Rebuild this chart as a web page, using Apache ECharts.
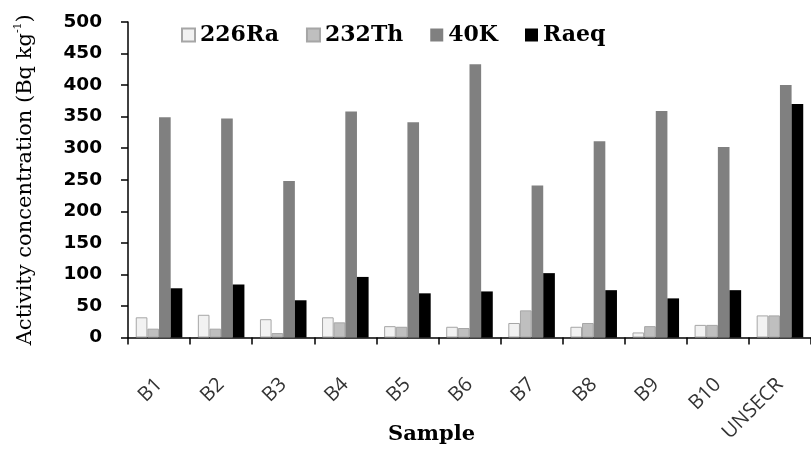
<!DOCTYPE html>
<html>
<head>
<meta charset="utf-8">
<script src="https://cdn.jsdelivr.net/npm/echarts@6/dist/echarts.min.js"></script>
<style>html,body{margin:0;padding:0;background:#fff;}#c{width:811px;height:449px;}</style>
</head>
<body>
<div id="c"></div>
<script>
var categories = ['B1','B2','B3','B4','B5','B6','B7','B8','B9','B10','UNSECR'];
var ra226 = [32, 36, 29, 32, 18, 17, 23, 17, 8, 20, 35];
var th232 = [14, 14, 7, 24, 17, 15, 43, 23, 18, 20, 35];
var k40 = [349, 347, 248, 358, 341, 433, 241, 311, 359, 302, 400];
var raeq = [78, 84, 59, 96, 70, 73, 102, 75, 62, 75, 370];
var yTicks = {min: 0, max: 500, interval: 50};

var chart = echarts.init(document.getElementById('c'));
var serif = 'DejaVu Serif';
function bar(name, data, color, border) {
  return {
    name: name, type: 'bar', data: data,
    barGap: '0%', barCategoryGap: '25%',
    itemStyle: {color: color, borderColor: border || color, borderWidth: border ? 1 : 0},
    emphasis: {disabled: true}
  };
}
chart.setOption({
  animation: false,
  backgroundColor: '#fff',
  grid: {left: 128, top: 22, right: -9, bottom: 111.5, containLabel: false},
  legend: {
    left: 176, top: 19, itemWidth: 13, itemHeight: 13, itemGap: 27, itemTextGap: 8,
    icon: 'rect',
    textStyle: {fontFamily: serif, fontWeight: 'bold', fontSize: 22, color: '#000'},
    data: ['226Ra','232Th','40K','Raeq']
  },
  xAxis: {
    type: 'category', data: categories,
    axisLine: {lineStyle: {color: '#000', width: 1.5}},
    axisTick: {show: true, length: 7, lineStyle: {color: '#000', width: 1.5}},
    axisLabel: {rotate: 45, margin: 44, fontFamily: 'Open Sans', fontSize: 20, color: '#333', interval: 0}
  },
  yAxis: {
    type: 'value', min: yTicks.min, max: yTicks.max, interval: yTicks.interval,
    splitLine: {show: false},
    axisLine: {show: true, lineStyle: {color: '#000', width: 1.5}},
    axisTick: {show: true, length: 7, lineStyle: {color: '#000', width: 1.5}},
    axisLabel: {margin: 26, fontFamily: 'DejaVu Sans', fontWeight: 'bold', fontSize: 18.5, color: '#000'},
    name: '{a|Activity concentration (Bq kg}{s|-1}{a|)}',
    nameLocation: 'middle', nameGap: 90,
    nameTextStyle: {
      rich: {
        a: {fontFamily: serif, fontSize: 21, color: '#000', lineHeight: 25},
        s: {fontFamily: serif, fontSize: 11, color: '#000', verticalAlign: 'top', lineHeight: 25}
      }
    }
  },
  graphic: [{
    type: 'text', left: 388, top: 424,
    style: {text: 'Sample', fontFamily: serif, fontWeight: 'bold', fontSize: 21, fill: '#000'}
  }],
  series: [
    bar('226Ra', ra226, '#f2f2f2', '#a6a6a6'),
    bar('232Th', th232, '#bfbfbf', '#a6a6a6'),
    bar('40K', k40, '#808080'),
    bar('Raeq', raeq, '#000000')
  ]
});
</script>
</body>
</html>
